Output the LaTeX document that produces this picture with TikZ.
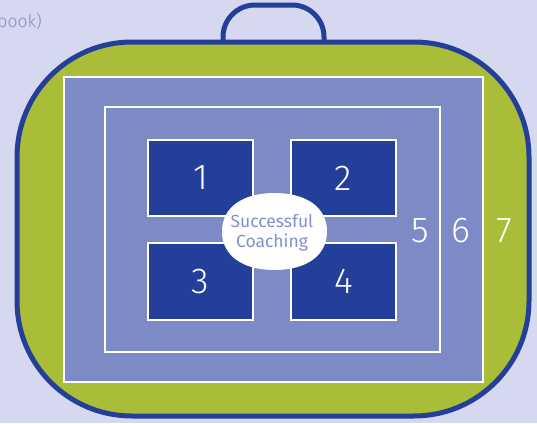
\documentclass[tikz,border=0pt]{standalone}
\usepackage{fontspec}
\setmainfont{Fira Sans}
\newfontfamily\lightfont{Fira Sans Light}
\definecolor{bg}{HTML}{D5D8EE}
\definecolor{leaf}{HTML}{A9BD38}
\definecolor{navy}{HTML}{233F99}
\definecolor{mid}{HTML}{7E8AC6}
\definecolor{lav}{HTML}{8390CB}
\tikzset{
  frame/.style={draw=white, line width=2.5pt, fill=mid},
  quad/.style={draw=white, line width=2pt, fill=navy, text=white, font=\lightfont\fontsize{36}{40}\selectfont},
  ringlabel/.style={text=white, font=\lightfont\fontsize{36}{40}\selectfont},
}
\begin{document}
\begin{tikzpicture}[x=1pt,y=-1pt]
\useasboundingbox (0,0) rectangle (537,423);
\fill[bg] (0,0) rectangle (537,423);
\node[anchor=base east, text=lav, font=\lightfont\fontsize{17.5}{20}\selectfont, inner sep=0pt] (src) at (42,27) {book)};
% handle
\draw[navy, line width=5pt, rounded corners=32] (223,44) -- (223,5) -- (324,5) -- (324,44);
% bag body
\draw[navy, line width=5pt, fill=leaf, rounded corners=115] (17,42) rectangle (529,416);
% rings
\node[frame, minimum width=419pt, minimum height=305pt, inner sep=0pt] (r7) at (273.5,229.5) {};
\node[frame, minimum width=335pt, minimum height=245pt, inner sep=0pt] (r6) at (272.5,229.5) {};
% quadrants
\node[quad, minimum width=105pt, minimum height=76pt, inner sep=0pt] (q1) at (200.5,178) {1};
\node[quad, minimum width=105pt, minimum height=76pt, inner sep=0pt] (q2) at (343.5,178) {2};
\node[quad, minimum width=105pt, minimum height=77pt, inner sep=0pt] (q3) at (200.5,281.5) {3};
\node[quad, minimum width=105pt, minimum height=77pt, inner sep=0pt] (q4) at (343.5,281.5) {4};
% centre (soft ellipse)
\fill[white] (327,231.5) .. controls (327,207) and (306,193) .. (274.5,193)
  .. controls (243,193) and (222,207) .. (222,231.5)
  .. controls (222,256) and (243,270) .. (274.5,270)
  .. controls (306,270) and (327,256) .. (327,231.5) -- cycle;
\node[text=lav, font=\fontsize{17.5}{20}\selectfont, align=center, inner sep=0pt] (core) at (272,233) {Successful\\Coaching};
% ring labels
\node[ringlabel] (l5) at (420,231) {5};
\node[ringlabel] (l6) at (461,231) {6};
\node[ringlabel] (l7) at (504,231) {7};
\end{tikzpicture}
\end{document}
